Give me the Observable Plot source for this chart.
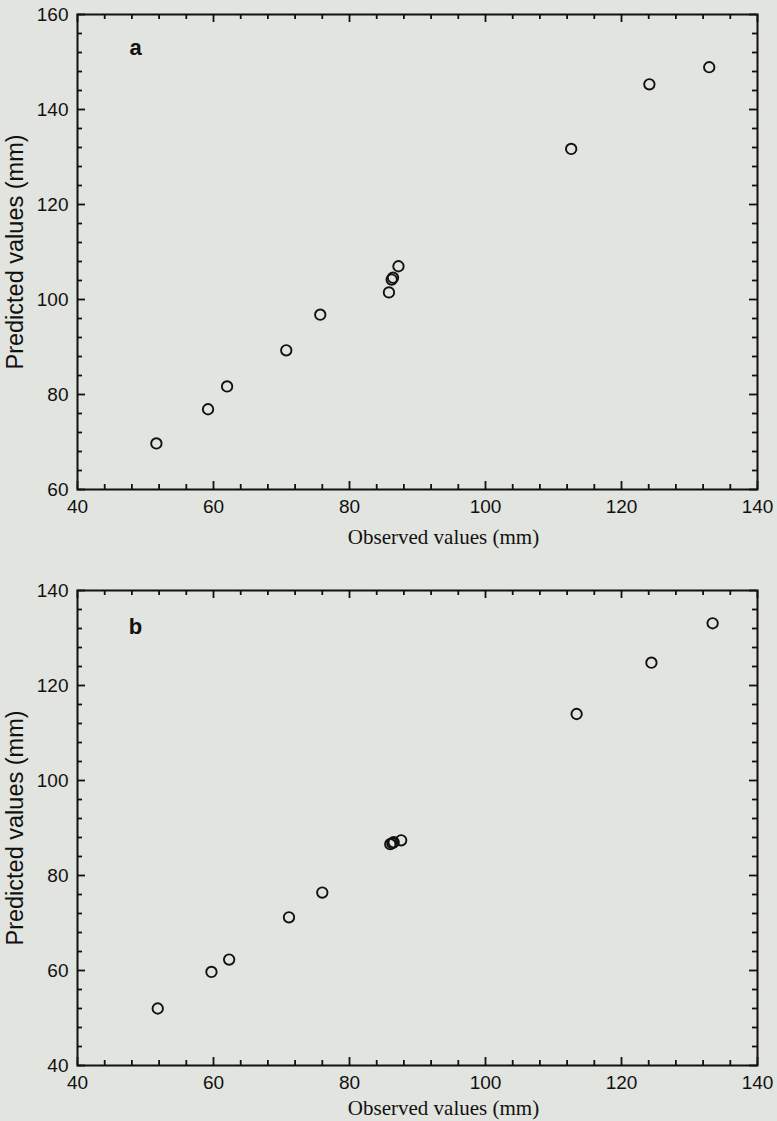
<!DOCTYPE html>
<html><head><meta charset="utf-8">
<script src="https://cdn.jsdelivr.net/npm/d3@7"></script>
<script src="https://cdn.jsdelivr.net/npm/@observablehq/plot@0.6"></script>
<style>
body{margin:0;background:#e2e4df;width:777px;height:1121px;overflow:hidden}
#a,#b{display:block;line-height:0}
</style></head><body><div id="a"></div><div id="b"></div>
<script>
const observedA = [51.6, 59.2, 62.0, 70.7, 75.7, 85.8, 86.2, 86.4, 87.2, 112.6, 124.1, 132.9];
const predictedA = [69.7, 76.9, 81.7, 89.3, 96.8, 101.5, 104.2, 104.6, 107.0, 131.7, 145.3, 148.9];
const observedB = [51.8, 59.7, 62.3, 71.1, 76.0, 86.0, 86.3, 86.5, 87.6, 113.4, 124.4, 133.4];
const predictedB = [52.0, 59.7, 62.3, 71.2, 76.4, 86.6, 86.8, 87.0, 87.4, 114.0, 124.8, 133.1];
const xTicks = [40, 60, 80, 100, 120, 140];
const yTicksA = [60, 80, 100, 120, 140, 160];
const yTicksB = [40, 60, 80, 100, 120, 140];
const xLabel = "Observed values (mm)";
const yLabel = "Predicted values (mm)";

const ink = "#111";
function minors(ticks) {
  const step = (ticks[1] - ticks[0]) / 5;
  return d3.range(ticks[0], ticks[ticks.length - 1] + 0.001, step).filter(v => !ticks.includes(v));
}
function panel(el, {xs, ys, yTicks, letter, height, marginTop, marginBottom, letterDy, xLabelDy}) {
  const width = 777, marginLeft = 77, marginRight = 20;
  const innerW = width - marginLeft - marginRight;
  const innerH = height - marginTop - marginBottom;
  const yDomain = [yTicks[0], yTicks[yTicks.length - 1]];
  const xMin = minors(xTicks), yMin = minors(yTicks);
  const t = {stroke: ink, strokeWidth: 1.8};
  const major = 8, minor = 5;
  const chart = Plot.plot({
    width, height, marginLeft, marginRight, marginTop, marginBottom,
    style: {background: "transparent", fontFamily: "'Liberation Sans', Arial, sans-serif", color: ink},
    x: {domain: [40, 140]},
    y: {domain: yDomain},
    marks: [
      Plot.axisX({anchor: "bottom", ticks: xTicks, tickSize: 0, tickPadding: 10, fontSize: 19, label: null}),
      Plot.axisY({anchor: "left", ticks: yTicks, tickSize: 0, tickPadding: 9, fontSize: 19, label: null}),
      // inward ticks, bottom & top
      Plot.tickX(xTicks, {x: d => d, insetTop: innerH - major, ...t}),
      Plot.tickX(xMin, {x: d => d, insetTop: innerH - minor, ...t}),
      Plot.tickX(xTicks, {x: d => d, insetBottom: innerH - major, ...t}),
      Plot.tickX(xMin, {x: d => d, insetBottom: innerH - minor, ...t}),
      // inward ticks, left & right
      Plot.tickY(yTicks, {y: d => d, insetRight: innerW - major, ...t}),
      Plot.tickY(yMin, {y: d => d, insetRight: innerW - minor, ...t}),
      Plot.tickY(yTicks, {y: d => d, insetLeft: innerW - major, ...t}),
      Plot.tickY(yMin, {y: d => d, insetLeft: innerW - minor, ...t}),
      Plot.frame({stroke: ink, strokeWidth: 2}),
      Plot.dot(xs, {x: xs, y: ys, r: 5.2, stroke: ink, strokeWidth: 1.9, fill: "none"}),
      Plot.text([letter], {frameAnchor: "top-left", dx: 58, dy: letterDy, text: d => d, textAnchor: "middle", lineAnchor: "middle", fontSize: 22, fontWeight: "bold", fill: ink}),
      Plot.text([yLabel], {frameAnchor: "left", dx: -62, rotate: -90, text: d => d, textAnchor: "middle", lineAnchor: "middle", fontSize: 23.5, fill: ink}),
      Plot.text([xLabel], {frameAnchor: "bottom", dx: 26, dy: xLabelDy, text: d => d, textAnchor: "middle", lineAnchor: "middle", fontSize: 21, fill: ink,
        fontFamily: "'Liberation Serif', 'Times New Roman', serif"})
    ]
  });
  document.getElementById(el).appendChild(chart);
}
panel("a", {xs: observedA, ys: predictedA, yTicks: yTicksA, letter: "a", height: 560, marginTop: 14, marginBottom: 71, letterDy: 33, xLabelDy: 48});
panel("b", {xs: observedB, ys: predictedB, yTicks: yTicksB, letter: "b", height: 561, marginTop: 30, marginBottom: 56, letterDy: 36, xLabelDy: 43});
</script></body></html>
